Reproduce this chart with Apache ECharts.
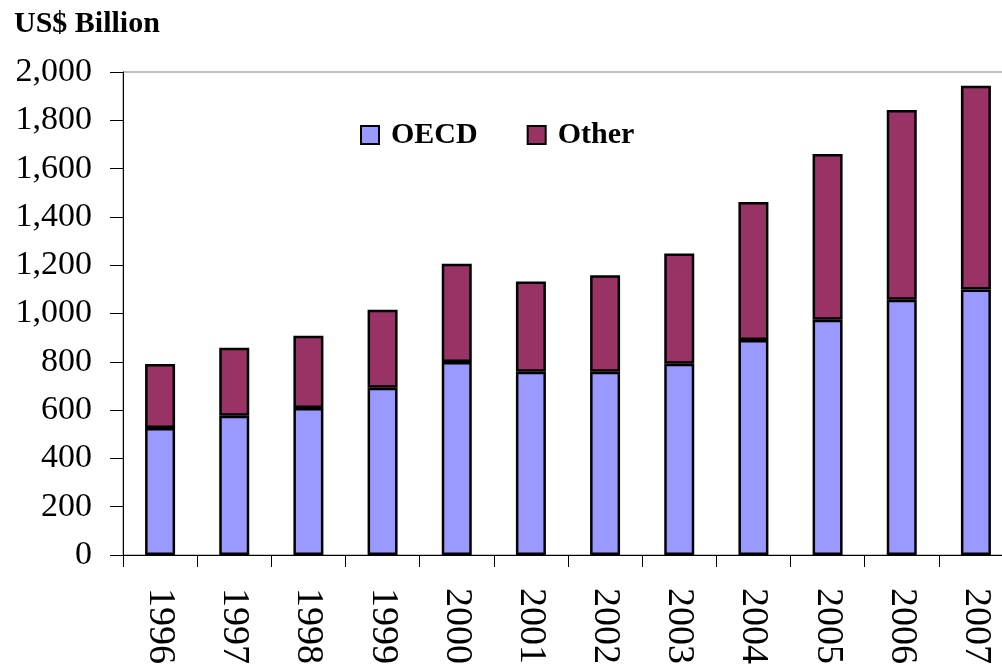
<!DOCTYPE html>
<html>
<head>
<meta charset="utf-8">
<script src="https://cdn.jsdelivr.net/npm/echarts@6/dist/echarts.min.js"></script>
<style>html,body{margin:0;padding:0;background:#fff}#c{width:1002px;height:667px}</style>
</head>
<body>
<div id="c"></div>
<script>
const years = ['1996','1997','1998','1999','2000','2001','2002','2003','2004','2005','2006','2007'];
const oecd  = [526, 577, 609, 693, 799, 759, 759, 792, 890, 974, 1057, 1099];
const total = [791, 858, 908, 1016, 1206, 1132, 1158, 1248, 1462, 1660, 1843, 1943];
const other = total.map((t, i) => t - oecd[i]);
const yTicks = { min: 0, max: 2000, interval: 200 };

const chart = echarts.init(document.getElementById('c'), null, { renderer: 'canvas' });
const serif = '"Liberation Serif", "Times New Roman", serif';
chart.setOption({
  animation: false,
  backgroundColor: '#fff',
  title: {
    text: 'US$ Billion', left: 9, top: 4,
    textStyle: { fontFamily: serif, fontWeight: 'bold', fontSize: 30, color: '#000' }
  },
  legend: {
    data: ['OECD', 'Other'], top: 120, left: 360, padding: 0, itemGap: 49, icon: 'rect',
    itemWidth: 18, itemHeight: 18,
    textStyle: { fontFamily: serif, fontWeight: 'bold', fontSize: 30, color: '#000', padding: [0, 0, 0, 7] }
  },
  grid: {
    left: 123, top: 72, bottom: 112, width: 890, containLabel: false, outerBoundsMode: 'none',
    show: true, borderColor: '#808080', borderWidth: 1
  },
  xAxis: {
    type: 'category', data: years, boundaryGap: true,
    axisLine: { lineStyle: { color: '#000', width: 1 } },
    axisTick: { show: true, length: 12, alignWithLabel: false, lineStyle: { color: '#000' } },
    axisLabel: { rotate: -90, margin: 33, fontFamily: serif, fontSize: 38, color: '#000' }
  },
  yAxis: {
    type: 'value', min: yTicks.min, max: yTicks.max, interval: yTicks.interval,
    axisLine: { show: true, lineStyle: { color: '#000', width: 1 } },
    axisTick: { show: true, length: 13, lineStyle: { color: '#000' } },
    splitLine: { show: false },
    axisLabel: {
      margin: 31, fontFamily: serif, fontSize: 34, color: '#000',
      formatter: v => v.toLocaleString('en-US')
    }
  },
  series: [
    { name: 'OECD', type: 'bar', stack: 's', data: oecd, barWidth: 30,
      itemStyle: { color: '#9999FF', borderColor: '#000', borderWidth: 2.5 } },
    { name: 'Other', type: 'bar', stack: 's', data: other, barWidth: 30,
      itemStyle: { color: '#993366', borderColor: '#000', borderWidth: 2.5 } }
  ]
});
</script>
</body>
</html>
